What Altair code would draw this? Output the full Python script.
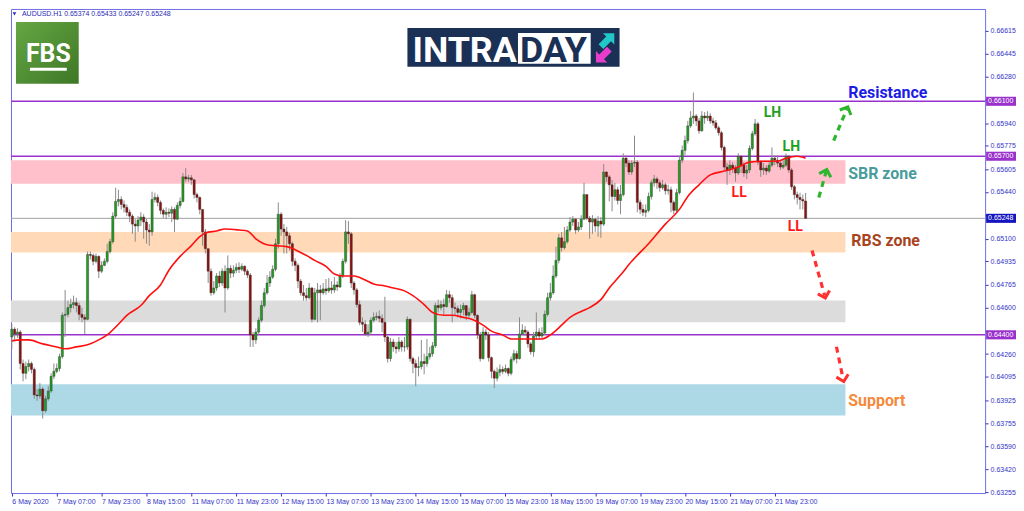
import json
import altair as alt
import pandas as pd

# ---------------- data ----------------
first_open = 0.64384

close = [
0.64441,0.64406,0.64420,0.64191,0.64120,0.64169,0.64191,0.64148,0.63962,0.63955,
0.64005,0.63848,0.63934,0.63991,0.64098,0.64134,0.64155,0.64241,0.64542,0.64549,
0.64598,0.64620,0.64634,0.64613,0.64549,0.64527,0.64513,0.64985,0.64978,0.64935,
0.64971,0.64863,0.64906,0.64935,0.65006,0.65078,0.65264,0.65371,0.65385,0.65349,
0.65328,0.65292,0.65264,0.65206,0.65192,0.65235,0.65257,0.65221,0.65163,0.65149,
0.65385,0.65400,0.65364,0.65306,0.65278,0.65292,0.65285,0.65313,0.65242,0.65342,
0.65371,0.65550,0.65535,0.65543,0.65528,0.65421,0.65400,0.65313,0.65149,0.65027,
0.64863,0.64706,0.64741,0.64828,0.64777,0.64863,0.64741,0.64884,0.64849,0.64870,
0.64891,0.64877,0.64899,0.64863,0.64835,0.64399,0.64363,0.64420,0.64506,0.64613,
0.64706,0.64777,0.64820,0.64877,0.65063,0.65278,0.65170,0.65149,0.65121,0.65063,
0.64935,0.64906,0.64791,0.64706,0.64685,0.64670,0.64741,0.64513,0.64706,0.64727,
0.64706,0.64734,0.64720,0.64741,0.64727,0.64763,0.64748,0.64828,0.64935,0.65149,
0.65135,0.64777,0.64727,0.64620,0.64491,0.64477,0.64406,0.64420,0.64506,0.64527,
0.64534,0.64520,0.64491,0.64384,0.64227,0.64348,0.64312,0.64298,0.64348,0.64312,
0.64312,0.64513,0.64227,0.64191,0.64162,0.64169,0.64205,0.64191,0.64241,0.64263,
0.64320,0.64613,0.64598,0.64620,0.64606,0.64692,0.64670,0.64598,0.64591,0.64563,
0.64584,0.64613,0.64542,0.64563,0.64692,0.64542,0.64399,0.64227,0.64420,0.64399,
0.64234,0.64134,0.64084,0.64127,0.64148,0.64134,0.64155,0.64120,0.64220,0.64263,
0.64227,0.64406,0.64434,0.64420,0.64334,0.64277,0.64391,0.64420,0.64391,0.64413,
0.64549,0.64670,0.64706,0.64828,0.64942,0.65106,0.65035,0.65078,0.65163,0.65221,
0.65242,0.65163,0.65185,0.65242,0.65421,0.65249,0.65221,0.65242,0.65192,0.65228,
0.65206,0.65585,0.65550,0.65492,0.65407,0.65456,0.65378,0.65421,0.65686,0.65650,
0.65585,0.65650,0.65657,0.65364,0.65313,0.65292,0.65306,0.65407,0.65507,0.65535,
0.65507,0.65471,0.65492,0.65449,0.65456,0.65364,0.65306,0.65435,0.65671,0.65743,
0.65814,0.65921,0.65979,0.65993,0.65957,0.65885,0.65993,0.65979,0.65993,0.65957,
0.65943,0.65907,0.65871,0.65764,0.65621,0.65600,0.65635,0.65614,0.65578,0.65700,
0.65635,0.65578,0.65600,0.65757,0.65864,0.65936,0.65657,0.65600,0.65614,0.65592,
0.65635,0.65686,0.65671,0.65650,0.65621,0.65635,0.65700,0.65600,0.65478,0.65421,
0.65400,0.65385,0.65374,0.65248]

high = [
0.64477,0.64455,0.64448,0.64434,0.64220,0.64205,0.64220,0.64205,0.64162,0.64005,
0.64048,0.64019,0.63955,0.64026,0.64120,0.64191,0.64191,0.64263,0.64563,0.64727,
0.64649,0.64663,0.64685,0.64670,0.64634,0.64598,0.64549,0.65006,0.65006,0.64992,
0.64992,0.64978,0.64935,0.64956,0.65063,0.65099,0.65292,0.65471,0.65456,0.65407,
0.65378,0.65349,0.65313,0.65278,0.65242,0.65264,0.65292,0.65278,0.65242,0.65206,
0.65442,0.65435,0.65421,0.65378,0.65320,0.65328,0.65320,0.65335,0.65328,0.65364,
0.65400,0.65578,0.65614,0.65564,0.65564,0.65535,0.65435,0.65407,0.65313,0.65170,
0.65027,0.64884,0.64791,0.64849,0.64863,0.64884,0.64906,0.64978,0.64906,0.64906,
0.64920,0.64928,0.64920,0.64906,0.64877,0.64849,0.64420,0.64448,0.64527,0.64649,
0.64741,0.64835,0.64863,0.64906,0.65099,0.65364,0.65292,0.65206,0.65185,0.65142,
0.65078,0.64956,0.64920,0.64806,0.64763,0.64741,0.64777,0.64748,0.64741,0.64777,
0.64763,0.64777,0.64806,0.64813,0.64791,0.64820,0.64791,0.64849,0.64956,0.65235,
0.65228,0.65149,0.64791,0.64741,0.64649,0.64527,0.64506,0.64477,0.64527,0.64563,
0.64563,0.64577,0.64549,0.64677,0.64391,0.64377,0.64370,0.64348,0.64384,0.64363,
0.64384,0.64534,0.64520,0.64241,0.64220,0.64241,0.64363,0.64263,0.64370,0.64312,
0.64348,0.64634,0.64656,0.64649,0.64663,0.64727,0.64720,0.64692,0.64634,0.64613,
0.64620,0.64634,0.64613,0.64598,0.64720,0.64699,0.64549,0.64420,0.64455,0.64441,
0.64420,0.64241,0.64148,0.64162,0.64184,0.64169,0.64184,0.64162,0.64241,0.64291,
0.64284,0.64527,0.64477,0.64463,0.64434,0.64348,0.64420,0.64563,0.64448,0.64455,
0.64577,0.64706,0.64777,0.64906,0.65042,0.65135,0.65149,0.65185,0.65192,0.65257,
0.65264,0.65249,0.65221,0.65271,0.65507,0.65421,0.65264,0.65271,0.65249,0.65264,
0.65257,0.65643,0.65592,0.65564,0.65528,0.65507,0.65478,0.65492,0.65721,0.65707,
0.65671,0.65671,0.65850,0.65671,0.65385,0.65349,0.65349,0.65435,0.65528,0.65564,
0.65550,0.65528,0.65528,0.65507,0.65492,0.65478,0.65378,0.65463,0.65700,0.65778,
0.65850,0.65957,0.66028,0.66164,0.66007,0.65979,0.66028,0.66021,0.66028,0.66014,
0.65979,0.65964,0.65921,0.65885,0.65778,0.65650,0.65671,0.65657,0.65635,0.65721,
0.65707,0.65657,0.65635,0.65778,0.65885,0.65971,0.65950,0.65671,0.65650,0.65635,
0.65664,0.65764,0.65707,0.65707,0.65671,0.65671,0.65721,0.65707,0.65614,0.65492,
0.65442,0.65435,0.65421,0.65433]

low = [
0.64298,0.64363,0.64377,0.64148,0.64062,0.64077,0.64134,0.64120,0.63934,0.63919,
0.63934,0.63791,0.63834,0.63919,0.63977,0.64077,0.64120,0.64134,0.64227,0.64384,
0.64527,0.64563,0.64591,0.64563,0.64506,0.64491,0.64406,0.64506,0.64949,0.64906,
0.64920,0.64813,0.64849,0.64899,0.64920,0.64992,0.65063,0.65249,0.65335,0.65313,
0.65292,0.65264,0.65221,0.65135,0.65078,0.65149,0.65192,0.65099,0.65063,0.65049,
0.65121,0.65364,0.65335,0.65278,0.65249,0.65242,0.65257,0.65221,0.65149,0.65235,
0.65320,0.65364,0.65514,0.65514,0.65492,0.65392,0.65364,0.65278,0.65049,0.64992,
0.64777,0.64685,0.64692,0.64720,0.64748,0.64756,0.64563,0.64727,0.64813,0.64820,
0.64849,0.64849,0.64863,0.64835,0.64813,0.64312,0.64312,0.64334,0.64399,0.64491,
0.64598,0.64692,0.64748,0.64806,0.64863,0.65027,0.65121,0.64992,0.64992,0.65013,
0.64899,0.64863,0.64741,0.64685,0.64649,0.64649,0.64656,0.64491,0.64506,0.64491,
0.64506,0.64692,0.64692,0.64706,0.64699,0.64706,0.64720,0.64741,0.64813,0.64920,
0.65063,0.64741,0.64692,0.64598,0.64470,0.64420,0.64391,0.64384,0.64399,0.64491,
0.64506,0.64491,0.64420,0.64348,0.64198,0.64205,0.64277,0.64263,0.64277,0.64277,
0.64277,0.64291,0.64205,0.64120,0.64026,0.64098,0.64148,0.64113,0.64169,0.64220,
0.64241,0.64305,0.64563,0.64577,0.64549,0.64598,0.64634,0.64491,0.64542,0.64527,
0.64520,0.64542,0.64506,0.64527,0.64549,0.64520,0.64370,0.64205,0.64220,0.64363,
0.64205,0.64084,0.64012,0.64062,0.64098,0.64113,0.64120,0.64098,0.64105,0.64205,
0.64191,0.64220,0.64399,0.64391,0.64305,0.64256,0.64241,0.64363,0.64363,0.64370,
0.64399,0.64534,0.64649,0.64692,0.64813,0.64920,0.65006,0.65020,0.65063,0.65149,
0.65192,0.65135,0.65149,0.65163,0.65235,0.65235,0.65099,0.65135,0.65149,0.65114,
0.65106,0.65192,0.65514,0.65371,0.65299,0.65378,0.65349,0.65278,0.65407,0.65621,
0.65564,0.65564,0.65621,0.65292,0.65278,0.65264,0.65257,0.65292,0.65385,0.65478,
0.65463,0.65442,0.65456,0.65421,0.65421,0.65292,0.65278,0.65292,0.65421,0.65650,
0.65707,0.65793,0.65907,0.65936,0.65921,0.65864,0.65878,0.65936,0.65957,0.65936,
0.65921,0.65893,0.65850,0.65742,0.65600,0.65492,0.65564,0.65578,0.65514,0.65564,
0.65578,0.65550,0.65535,0.65578,0.65742,0.65850,0.65635,0.65550,0.65564,0.65564,
0.65578,0.65621,0.65635,0.65621,0.65600,0.65607,0.65621,0.65578,0.65456,0.65385,
0.65349,0.65313,0.65313,0.65247]

# moving average (bar index, price)
ma_bar = [0,3,6,11,16,19,23,27,31,34,38,41,46,49,53,56,60,64,67,69,73,76,81,84,87,91,94,
          98,101,105,108,112,115,118,122,126,129,133,136,140,143,147,150,154,157,161,164,
          168,171,175,178,182,185,189,192,196,199,203,206,210,213,217,221,227,233,238,241,
          245,249,254,259,263,268,273,276,280,283]
ma_val = [0.64356,0.64363,0.64363,0.64334,0.64312,0.64298,0.64312,0.64327,0.64363,0.64399,
          0.64477,0.64542,0.64613,0.64685,0.64763,0.64870,0.64971,0.65049,0.65114,0.65142,
          0.65156,0.65170,0.65163,0.65156,0.65099,0.65056,0.65049,0.65042,0.65020,0.64978,
          0.64942,0.64899,0.64842,0.64828,0.64828,0.64799,0.64770,0.64756,0.64741,0.64720,
          0.64685,0.64620,0.64563,0.64542,0.64542,0.64527,0.64513,0.64470,0.64427,0.64399,
          0.64370,0.64370,0.64370,0.64370,0.64399,0.64470,0.64527,0.64570,0.64598,0.64656,
          0.64741,0.64835,0.64935,0.65063,0.65206,0.65313,0.65407,0.65492,0.65564,0.65592,
          0.65621,0.65657,0.65664,0.65664,0.65686,0.65700,0.65686]

time_labels = ["6 May 2020", "7 May 07:00", "7 May 23:00", "8 May 15:00", "11 May 07:00",
               "11 May 23:00", "12 May 15:00", "13 May 07:00", "13 May 23:00", "14 May 15:00",
               "15 May 07:00", "15 May 23:00", "18 May 15:00", "19 May 07:00", "19 May 23:00",
               "20 May 15:00", "21 May 07:00", "21 May 23:00"]
price_ticks = [0.66615, 0.66445, 0.66280, 0.66110, 0.65940, 0.65775, 0.65605, 0.65440,
               0.65270, 0.65100, 0.64935, 0.64765, 0.64600, 0.64430, 0.64260, 0.64095,
               0.63925, 0.63755, 0.63590, 0.63420, 0.63255]
covered_ticks = ["0.66110", "0.65270", "0.64430"]   # hidden under the price tags

zone_names = ["SBR", "RBS", "mid", "Support"]
zone_top = [0.65671, 0.65149, 0.64649, 0.64041]
zone_bot = [0.65500, 0.64999, 0.64492, 0.63813]
zone_fill = ["#ffc0cb", "#ffd9b8", "#dcdcdc", "#add8e6"]
zone_end = 297.2

level_price = [0.66100, 0.65700, 0.64400]
current_price = 0.65248

# ---------------- build tables ----------------
opens = [first_open] + close[:-1]
candles = pd.DataFrame({"i": list(range(len(close))), "o": opens, "h": high, "l": low, "c": close})
ma = pd.DataFrame({"i": ma_bar, "v": ma_val})
zones = pd.DataFrame({"name": zone_names, "top": zone_top, "bot": zone_bot, "fill": zone_fill,
                      "x0": [-0.3] * 4, "x1": [zone_end] * 4})

W, H = 978, 486
AXC = "#3434c8"
FONT = "Liberation Sans"
xs = alt.Scale(domain=[-0.3, 347.0], nice=False, zero=False, padding=0)
ys = alt.Scale(domain=[0.63248, 0.66772], nice=False, zero=False, padding=0)

label_expr = json.dumps(time_labels) + "[round(datum.value/16)]"
y_label_expr = ("indexof(" + json.dumps(covered_ticks) + ", format(datum.value, '.5f')) >= 0"
                " ? '' : format(datum.value, '.5f')")
x_axis = alt.Axis(values=list(range(0, 273, 16)), labelExpr=label_expr, orient="bottom",
                  tickSize=3, labelFontSize=7, labelFont=FONT, labelColor=AXC, tickColor=AXC,
                  labelAlign="left", labelBaseline="top", labelPadding=1, domain=False,
                  grid=False, title=None, labelOverlap=False, labelFlush=False)
y_axis = alt.Axis(values=price_ticks, labelExpr=y_label_expr, orient="right", tickSize=3,
                  labelFontSize=7, labelFont=FONT, labelColor=AXC, tickColor=AXC,
                  labelPadding=2, domain=False, grid=False, title=None, labelOverlap=False,
                  labelFlush=False)


def X(f):
    return alt.X(f, type="quantitative", scale=xs, axis=x_axis)


def Y(f):
    return alt.Y(f, type="quantitative", scale=ys, axis=y_axis)


zone_layer = alt.Chart(zones).mark_rect().encode(
    x=X("x0"), x2="x1", y=Y("top"), y2="bot", color=alt.Color("fill:N", scale=None))

levels = pd.DataFrame({"p": level_price})
level_layer = alt.Chart(levels).mark_rule(color="#9932cc", strokeWidth=1.6).encode(y=Y("p"))
cur_layer = alt.Chart(pd.DataFrame({"p": [current_price]})).mark_rule(
    color="#a0a0a0", strokeWidth=1).encode(y=Y("p"))

wick_layer = alt.Chart(candles).mark_rule(color="#8a8a8a", strokeWidth=1).encode(
    x=X("i"), y=Y("l"), y2="h")
body_layer = alt.Chart(candles).mark_bar(size=2.2, stroke="#303030", strokeWidth=0.4).encode(
    x=X("i"), y=Y("o"), y2="c",
    color=alt.condition("datum.c >= datum.o", alt.value("#1f9e1f"), alt.value("#8f0e0e")))

ma_layer = alt.Chart(ma).mark_line(color="#ff1010", strokeWidth=1.6, interpolate="monotone").encode(
    x=X("i"), y=Y("v"))

# annotations
notes_left = pd.DataFrame({
    "t": ["Resistance", "SBR zone", "RBS zone", "Support"],
    "i": [298.2, 298.2, 299.3, 298.2],
    "p": [0.66157, 0.65571, 0.65085, 0.63920],
    "col": ["#1c1ce6", "#4a9c9c", "#a8431e", "#f58a3c"]})
notes_left_layer = alt.Chart(notes_left).mark_text(
    align="left", baseline="middle", font="Roboto", fontWeight="bold", fontSize=16).encode(
    x=X("i"), y=Y("p"), text="t:N", color=alt.Color("col:N", scale=None))

notes_c = pd.DataFrame({
    "t": ["LH", "LH", "LL", "LL"],
    "i": [271.2, 277.9, 259.3, 279.3],
    "p": [0.66015, 0.65764, 0.65435, 0.65185],
    "col": ["#1ea01e", "#1ea01e", "#ff1a1a", "#ff1a1a"]})
notes_c_layer = alt.Chart(notes_c).mark_text(
    align="center", baseline="middle", font="Roboto", fontWeight="bold", fontSize=14).encode(
    x=X("i"), y=Y("p"), text="t:N", color=alt.Color("col:N", scale=None))

arrows = pd.DataFrame({
    "i0": [287.7, 293.0, 285.3, 294.0],
    "p0": [0.65400, 0.65814, 0.65014, 0.64313],
    "i1": [290.3, 297.7, 289.8, 296.4],
    "p1": [0.65586, 0.66043, 0.64685, 0.64077],
    "ang": [17, 24, 164, 166],
    "col": ["#2db52d", "#2db52d", "#ff3030", "#ff3030"]})
arrow_layer = alt.Chart(arrows).mark_rule(strokeWidth=3.2, strokeDash=[6, 5]).encode(
    x=X("i0"), y=Y("p0"), x2="i1", y2="p1", color=alt.Color("col:N", scale=None))
head_layer = alt.Chart(arrows).mark_point(
    shape="M-1,0.6L0,-0.4L1,0.6", filled=False, strokeWidth=3, size=150, opacity=1).encode(
    x=X("i1"), y=Y("p1"), angle=alt.Angle("ang:Q", scale=None),
    color=alt.Color("col:N", scale=None))

# price tags on the right axis
tag_price = level_price + [current_price]
tags = pd.DataFrame({
    "p": tag_price,
    "top": [v + 0.00033 for v in tag_price],
    "bot": [v - 0.00033 for v in tag_price],
    "lab": ["%.5f" % v for v in tag_price],
    "fill": ["#9932cc", "#9932cc", "#9932cc", "#1414c0"]})
tag_rect = alt.Chart(tags).mark_rect().encode(
    x=alt.value(W + 1), x2=alt.value(W + 31), y=Y("top"), y2="bot",
    color=alt.Color("fill:N", scale=None))
tag_text = alt.Chart(tags).mark_text(align="left", baseline="middle", fontSize=7, font=FONT,
                                     color="white").encode(
    x=alt.value(W + 3), y=Y("p"), text="lab:N")

# title line and logos
one = pd.DataFrame({"k": [0]})
title_tri = alt.Chart(one).mark_point(shape="triangle-down", filled=True, size=14,
                                      color="#2b2bb8", opacity=1).encode(
    x=alt.value(3.5), y=alt.value(5))
title_txt = alt.Chart(one).mark_text(align="left", baseline="middle", fontSize=7, font=FONT,
                                     color="#2b2bb8").encode(
    x=alt.value(11), y=alt.value(5.5), text=alt.value("AUDUSD.H1  0.65374 0.65433 0.65247 0.65248"))

fbs_grad = alt.Gradient(gradient="linear", x1=0, y1=0, x2=1, y2=1,
                        stops=[alt.GradientStop(color="#66a644", offset=0),
                               alt.GradientStop(color="#3d7826", offset=1)])
fbs_box = alt.Chart(one).mark_rect(color=fbs_grad).encode(
    x=alt.value(5), x2=alt.value(68), y=alt.value(13), y2=alt.value(75))
fbs_txt = alt.Chart(one).mark_text(align="center", baseline="alphabetic", font="Roboto",
                                   fontWeight="bold", fontSize=25, color="white").encode(
    x=alt.value(37.5), y=alt.value(53), text=alt.value("FBS"))
fbs_bar = alt.Chart(one).mark_rect(color="white").encode(
    x=alt.value(19), x2=alt.value(56), y=alt.value(59), y2=alt.value(62))

ARROW = "M-0.35,1L-0.35,-0.15L-0.85,-0.15L0,-1L0.85,-0.15L0.35,-0.15L0.35,1Z"
intra_box = alt.Chart(one).mark_rect(color="#1b3055").encode(
    x=alt.value(398), x2=alt.value(611), y=alt.value(19), y2=alt.value(58))
intra_white = alt.Chart(one).mark_rect(color="white").encode(
    x=alt.value(509), x2=alt.value(582), y=alt.value(24), y2=alt.value(55))
intra_txt = alt.Chart(one).mark_text(align="left", baseline="alphabetic", font="Roboto",
                                     fontWeight="bold", fontSize=36, color="white").encode(
    x=alt.value(403), y=alt.value(53), text=alt.value("INTRA"))
day_txt = alt.Chart(one).mark_text(align="left", baseline="alphabetic", font="Roboto",
                                   fontWeight="bold", fontSize=36, color="#1b3055").encode(
    x=alt.value(511), y=alt.value(53), text=alt.value("DAY"))
icon_a = alt.Chart(one).mark_point(shape=ARROW, filled=True, size=360, color="#22c7c9",
                                   opacity=1, angle=45, strokeWidth=0).encode(
    x=alt.value(599), y=alt.value(31))
icon_b = alt.Chart(one).mark_point(shape=ARROW, filled=True, size=360, color="#e83ccc",
                                   opacity=1, angle=225, strokeWidth=0).encode(
    x=alt.value(594), y=alt.value(47))

chart = alt.layer(
    zone_layer, level_layer, cur_layer, wick_layer, body_layer, ma_layer,
    arrow_layer, head_layer, notes_left_layer, notes_c_layer, tag_rect, tag_text,
    title_tri, title_txt, fbs_box, fbs_txt, fbs_bar, intra_box, intra_white, intra_txt,
    day_txt, icon_a, icon_b
).properties(width=W, height=H, padding=0, background="white").configure_view(
    stroke="#6e6ee6", strokeWidth=1)

chart.save("out.html", embed_options={"renderer": "svg", "actions": False})
